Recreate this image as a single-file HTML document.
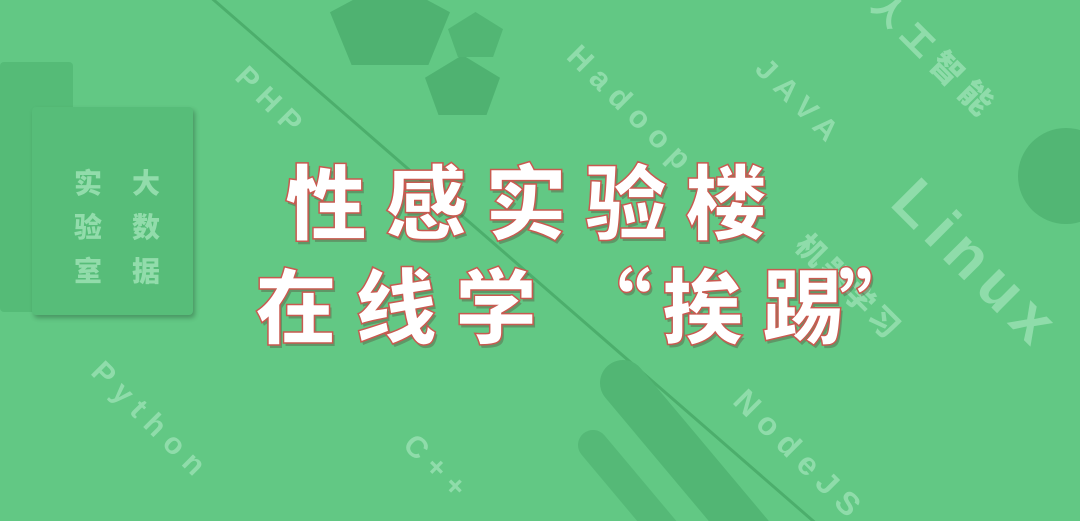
<!DOCTYPE html>
<html><head><meta charset="utf-8"><style>
html,body{margin:0;width:1080px;height:521px;overflow:hidden}
#c{position:relative;width:1080px;height:521px;overflow:hidden;background:#62c884;font-family:"Liberation Sans","Noto Sans CJK SC",sans-serif}
.abs{position:absolute}
.wm{position:absolute;color:#8fdcaa;font-weight:bold;transform-origin:0 0;white-space:nowrap;letter-spacing:9px}
.t{position:absolute;color:#fff;font-family:"Noto Sans CJK SC",sans-serif;font-weight:900;font-size:82px;line-height:100px;white-space:nowrap;
-webkit-text-stroke:1.5px #c85a50;text-shadow:2px 3px 0 rgba(90,60,50,0.35)}
.p{position:absolute;color:#92dcab;font-family:"Noto Sans CJK SC",sans-serif;font-weight:900;font-size:28px;line-height:44px;width:30px}
</style></head><body>
<div id="c">
<div class="abs" style="left:200px;top:-10px;width:3px;height:820px;background:#4cae6c;transform-origin:0 0;transform:rotate(-49deg)"></div>
<div class="abs" style="left:600px;top:360px;width:46px;height:260px;border-radius:23px;background:#52b674;transform-origin:23px 23px;transform:rotate(-40deg)"></div>
<div class="abs" style="left:578px;top:430px;width:30px;height:200px;border-radius:15px;background:#55b977;transform-origin:15px 15px;transform:rotate(-40deg)"></div>
<div class="abs" style="left:1018px;top:128px;width:96px;height:96px;border-radius:50%;background:#52b674"></div>
<div class="abs" style="left:330px;top:-20px;width:120px;height:85px;background:#4fb271;clip-path:polygon(50% 0,100% 38%,82% 100%,18% 100%,0 38%)"></div>
<div class="abs" style="left:425px;top:55px;width:75px;height:60px;background:#4fb271;clip-path:polygon(50% 0,100% 38%,82% 100%,18% 100%,0 38%)"></div>
<div class="abs" style="left:448px;top:12px;width:55px;height:45px;background:#52b674;clip-path:polygon(50% 0,100% 38%,82% 100%,18% 100%,0 38%)"></div>
<div class="abs" style="left:0;top:62px;width:73px;height:250px;background:#55bb77;border-radius:4px"></div>
<div class="abs" style="left:32px;top:107px;width:161px;height:208px;background:#57bd79;border-radius:4px;box-shadow:2px 3px 5px rgba(0,0,0,0.25)"></div>
<div class="p" style="left:74px;top:160px">实验室</div>
<div class="p" style="left:132px;top:160px">大数据</div>
<div class="wm" style="left:252px;top:60px;font-size:30px;transform:rotate(45deg)">PHP</div>
<div class="wm" style="left:585px;top:38px;font-size:31px;transform:rotate(45deg)">Hadoop</div>
<div class="wm" style="left:772px;top:52px;font-size:30px;transform:rotate(45deg)">JAVA</div>
<div class="wm" style="left:895px;top:-18px;font-size:32px;font-family:'Noto Sans CJK SC',sans-serif;font-weight:900;transform:rotate(45deg)">人工智能</div>
<div class="wm" style="left:928px;top:165px;font-size:62px;transform:rotate(45deg)">Linux</div>
<div class="wm" style="left:818px;top:222px;font-size:30px;font-family:'Noto Sans CJK SC',sans-serif;font-weight:900;letter-spacing:4px;transform:rotate(45deg)">机器学习</div>
<div class="wm" style="left:752px;top:382px;font-size:32px;transform:rotate(45deg)">NodeJS</div>
<div class="wm" style="left:108px;top:355px;font-size:30px;transform:rotate(45deg)">Python</div>
<div class="wm" style="left:420px;top:428px;font-size:30px;transform:rotate(45deg)">C++</div>
<div class="t" style="left:285px;top:148px;letter-spacing:18px">性感实验楼</div>
<div>
<div class="t" style="left:255px;top:252px">在</div>
<div class="t" style="left:355px;top:252px">线</div>
<div class="t" style="left:455px;top:252px">学</div>
<div class="t" style="left:570px;top:252px">“</div>
<div class="t" style="left:662px;top:252px">挨</div>
<div class="t" style="left:762px;top:252px">踢</div>
<div class="t" style="left:838px;top:252px">”</div>
</div>
</div>
</body></html>
